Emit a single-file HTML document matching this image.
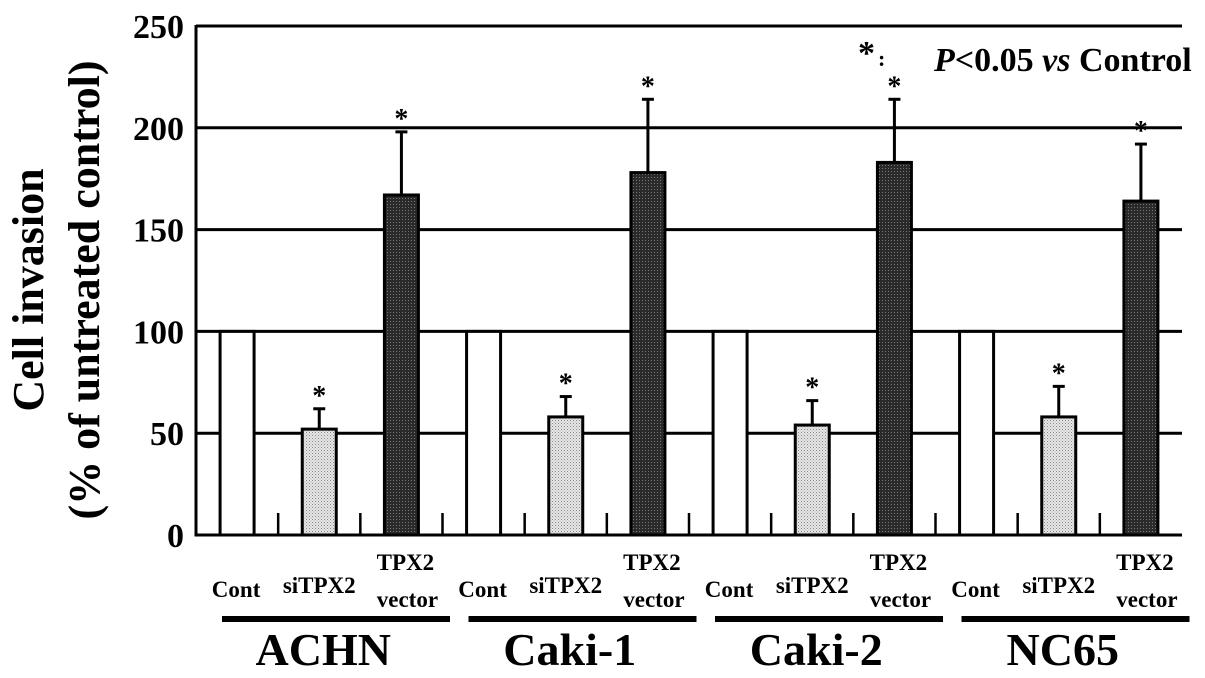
<!DOCTYPE html>
<html><head><meta charset="utf-8"><style>
body{margin:0;background:#fff}
svg{display:block}
text{font-family:"Liberation Serif",serif;font-weight:bold;fill:#000}
</style></head><body>
<svg id="chart" width="1205" height="678" viewBox="0 0 1205 678">
<defs>
<pattern id="light" width="3" height="3" patternUnits="userSpaceOnUse"><rect width="3" height="3" fill="#e6e6e6"/><rect width="1" height="1" fill="#888"/><rect x="1.5" y="1.5" width="1" height="1" fill="#aaa"/></pattern>
<pattern id="dark" width="3" height="3" patternUnits="userSpaceOnUse"><rect width="3" height="3" fill="#2a2a2a"/><rect width="1" height="1" fill="#777"/></pattern>
</defs>
<g id="grid"></g>
<g id="bars"></g>
<g id="axes"></g>
<g id="labels"></g>
<g>
<text transform="translate(43,290) rotate(-90)" text-anchor="middle" font-size="44">Cell invasion</text>
<text transform="translate(99,290) rotate(-90)" text-anchor="middle" font-size="44">(% of untreated control)</text>
</g>
<g>
<text x="858" y="64" font-size="34">*</text><text x="878" y="66" font-size="22">:</text>
<text x="934" y="71" font-size="34"><tspan font-style="italic">P</tspan>&lt;0.05 <tspan font-style="italic">vs</tspan> Control</text>
</g>
</svg>
<script>
const groups=["ACHN","Caki-1","Caki-2","NC65"];
const treatments=["Cont","siTPX2","TPX2 vector"];
const values=[[100,52,167],[100,58,178],[100,54,183],[100,58,164]];
const errors=[[0,10,31],[0,10,36],[0,12,31],[0,15,28]];
const signif=[[0,1,1],[0,1,1],[0,1,1],[0,1,1]];
const yTicks=[0,50,100,150,200,250];
const NS="http://www.w3.org/2000/svg";
const x0=196,x1=1182,slot=(x1-x0)/12,yBase=535,yTop=26;
const y=v=>yBase-(v/250)*(yBase-yTop);
function mk(p,tag,a){const e=document.createElementNS(NS,tag);for(const k in a)e.setAttribute(k,a[k]);p.appendChild(e);return e;}
const G=document.getElementById('grid'),B=document.getElementById('bars'),A=document.getElementById('axes'),L=document.getElementById('labels');
yTicks.forEach(t=>{
  if(t>0){const l=mk(G,'line',{x1:x0,x2:x1,y1:y(t),y2:y(t),stroke:'#000','stroke-width':3});
  
  }
  const tx=mk(A,'text',{x:184,y:y(t)+12,'text-anchor':'end','font-size':34});tx.textContent=t;
  
  
});
mk(A,'line',{x1:x0,x2:x0,y1:yTop-1,y2:yBase+1.5,stroke:'#000','stroke-width':3});
mk(A,'line',{x1:x0-1,x2:x1,y1:yBase,y2:yBase,stroke:'#000','stroke-width':3});
for(let i=1;i<12;i++){const t=mk(A,'line',{x1:x0+i*slot,x2:x0+i*slot,y1:yBase,y2:yBase-22,stroke:'#000','stroke-width':2.5});
  
  }
const fills=['#fff','url(#light)','url(#dark)'];
groups.forEach((g,gi)=>{
  treatments.forEach((tr,ti)=>{
    const cx=x0+(gi*3+ti+0.5)*slot,w=34,v=values[gi][ti],e=errors[gi][ti];
    if(e>0){const el=mk(B,'line',{x1:cx,x2:cx,y1:y(v),y2:y(v+e),stroke:'#000','stroke-width':3});
      
      
      mk(B,'line',{x1:cx-6,x2:cx+6,y1:y(v+e),y2:y(v+e),stroke:'#000','stroke-width':3});}
    const r=mk(B,'rect',{x:cx-w/2,y:y(v),width:w,height:yBase-y(v),fill:fills[ti],stroke:'#000','stroke-width':3});
    
    
    if(signif[gi][ti]){const s=mk(B,'text',{x:cx,y:y(v+e)-4,'text-anchor':'middle','font-size':28});s.textContent='*';
      
      }
    if(ti<2){const t=mk(L,'text',{x:cx+(ti==0?-1:0),y:ti==0?597:593,'text-anchor':'middle','font-size':23});t.textContent=tr;
      
      }
    else{const t=mk(L,'text',{x:cx+4,y:570,'text-anchor':'middle','font-size':23});t.textContent='TPX2';
      
      
      const t2=mk(L,'text',{x:cx+6,y:607,'text-anchor':'middle','font-size':23});t2.textContent='vector';
      
      }
  });
  const gx=x0+gi*3*slot;
  const ln=mk(L,'rect',{x:gx+26,y:616,width:228,height:6,fill:'#000'});
  
  
  const gt=mk(L,'text',{x:gx+1.5*slot+4,y:665,'text-anchor':'middle','font-size':46});gt.textContent=g;
  
  
});
</script>
</body></html>
